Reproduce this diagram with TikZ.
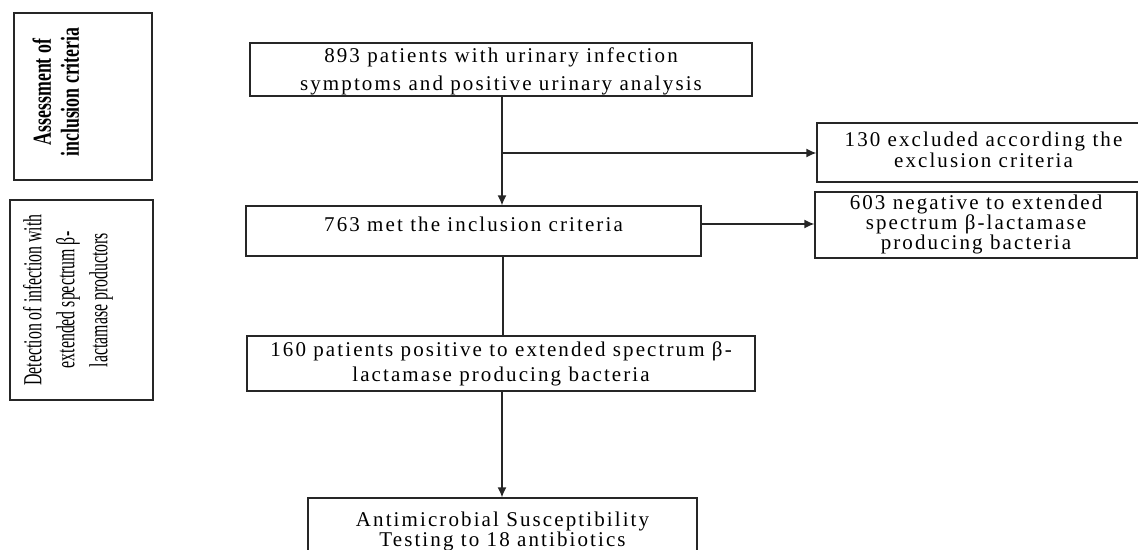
\documentclass[tikz,border=0pt]{standalone}
\usepackage{fontspec}
\setmainfont{Liberation Serif}
\newfontfamily\boxfont[LetterSpace=10]{Liberation Serif}
\newfontfamily\sidefontA[FakeStretch=0.685]{Liberation Serif}
\newfontfamily\sidefontB[FakeStretch=0.61]{Liberation Serif}
\usetikzlibrary{arrows.meta}
\newcommand{\shifted}[2]{\raisebox{#1}{\begin{tabular}{@{}c@{}}#2\end{tabular}}}
\begin{document}
\begin{tikzpicture}[x=1pt,y=-1pt,
  frame/.style={draw=black!85, line width=1.3pt, rectangle, inner sep=0pt},
  box/.style={frame, align=center, font=\boxfont\fontsize{21}{26}\selectfont},
  side/.style={rotate=90, align=center, inner sep=0pt},
  conn/.style={draw=black!85, line width=1.3pt},
  arr/.style={conn, -{Latex[length=10pt,width=9pt]}}]
\useasboundingbox (0,0) rectangle (1138,549);
\clip (0,0) rectangle (1138,549);
% side frames
\node[frame, minimum width=138pt, minimum height=167pt] (L1) at (83,96.5) {};
\node[side, font=\sidefontA\bfseries\fontsize{26}{28}\selectfont] (L1t) at (56,92)
  {Assessment of\\inclusion criteria};
\node[frame, minimum width=143pt, minimum height=200pt] (L2) at (81.5,300) {};
\node[side, font=\sidefontB\fontsize{26}{33}\selectfont] (L2t) at (68,300)
  {Detection of infection with\\extended spectrum β-\\lactamase productors};
% main flow
\node[box, minimum width=502pt, minimum height=53pt, text height=44pt, text depth=3pt,
  font=\boxfont\fontsize{21}{28}\selectfont] (A) at (501,69.5)
  {893 patients with urinary infection\\symptoms and positive urinary analysis};
\node[box, minimum width=333pt, minimum height=59pt, font=\boxfont\fontsize{21}{19}\selectfont] (B) at (983.5,152.5)
  {\shifted{7pt}{130 excluded according the\\exclusion criteria}};
\node[box, minimum width=322pt, minimum height=66pt, font=\boxfont\fontsize{21}{19}\selectfont] (C) at (976,225)
  {\shifted{-3pt}{603 negative to extended\\spectrum β-lactamase\\producing bacteria}};
\node[box, minimum width=455pt, minimum height=50pt] (D) at (473.5,231)
  {\raisebox{13pt}{763 met the inclusion criteria}};
\node[box, minimum width=508pt, minimum height=55pt, font=\boxfont\fontsize{21}{25}\selectfont] (E) at (501,363.5)
  {\shifted{-6pt}{160 patients positive to extended spectrum β-\\lactamase producing bacteria}};
\node[box, minimum width=389pt, minimum height=70pt, font=\boxfont\fontsize{21}{20}\selectfont] (F) at (502.5,533)
  {\shifted{17pt}{Antimicrobial Susceptibility\\Testing to 18 antibiotics}};
% connectors
\coordinate (br) at (502,153);
\draw[arr] (A.south -| br) -- (D.north -| br);
\draw[arr] (br) -- (B.west |- br);
\draw[arr] (D.east |- 0,224) -- (C.west |- 0,224);
\draw[conn] (D.south -| 503,0) -- (E.north -| 503,0);
\draw[arr] (E.south -| br) -- (F.north -| br);
\end{tikzpicture}
\end{document}
